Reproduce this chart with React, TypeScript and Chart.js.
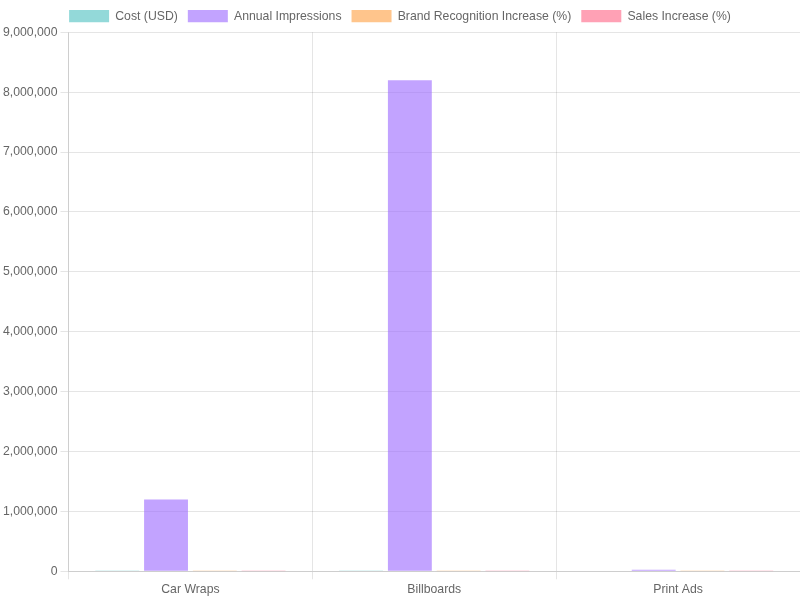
import Chart from 'chart.js/auto';
import { useEffect, useRef } from 'react';

const categories = ['Car Wraps', 'Billboards', 'Print Ads'];
const costUsd = [3000, 15000, 8000];
const annualImpressions = [1200000, 8200000, 25000];
const brandRecognition = [30, 25, 15];
const salesIncrease = [20, 15, 10];

export default function App() {
    const canvasRef = useRef<HTMLCanvasElement>(null);

    useEffect(() => {
        document.body.style.margin = '0';
        const ctx = canvasRef.current?.getContext('2d');
        if (!ctx) return;

        Chart.defaults.font.size = 12.25;

        const chart = new Chart(ctx, {
            type: 'bar',
            data: {
                labels: categories,
                datasets: [
                    { label: 'Cost (USD)', data: costUsd, backgroundColor: 'rgba(75, 192, 192, 0.6)' },
                    { label: 'Annual Impressions', data: annualImpressions, backgroundColor: 'rgba(153, 102, 255, 0.6)' },
                    { label: 'Brand Recognition Increase (%)', data: brandRecognition, backgroundColor: 'rgba(255, 159, 64, 0.6)' },
                    { label: 'Sales Increase (%)', data: salesIncrease, backgroundColor: 'rgba(255, 99, 132, 0.6)' },
                ],
            },
            options: {
                responsive: true,
                maintainAspectRatio: false,
                animation: false,
                scales: {
                    y: { beginAtZero: true },
                },
            },
        });

        return () => {
            chart.destroy();
        };
    }, []);

    return (
        <div style={{ position: 'absolute', left: 0, top: 0, width: 800, height: 600 }}>
            <canvas ref={canvasRef} />
        </div>
    );
}
